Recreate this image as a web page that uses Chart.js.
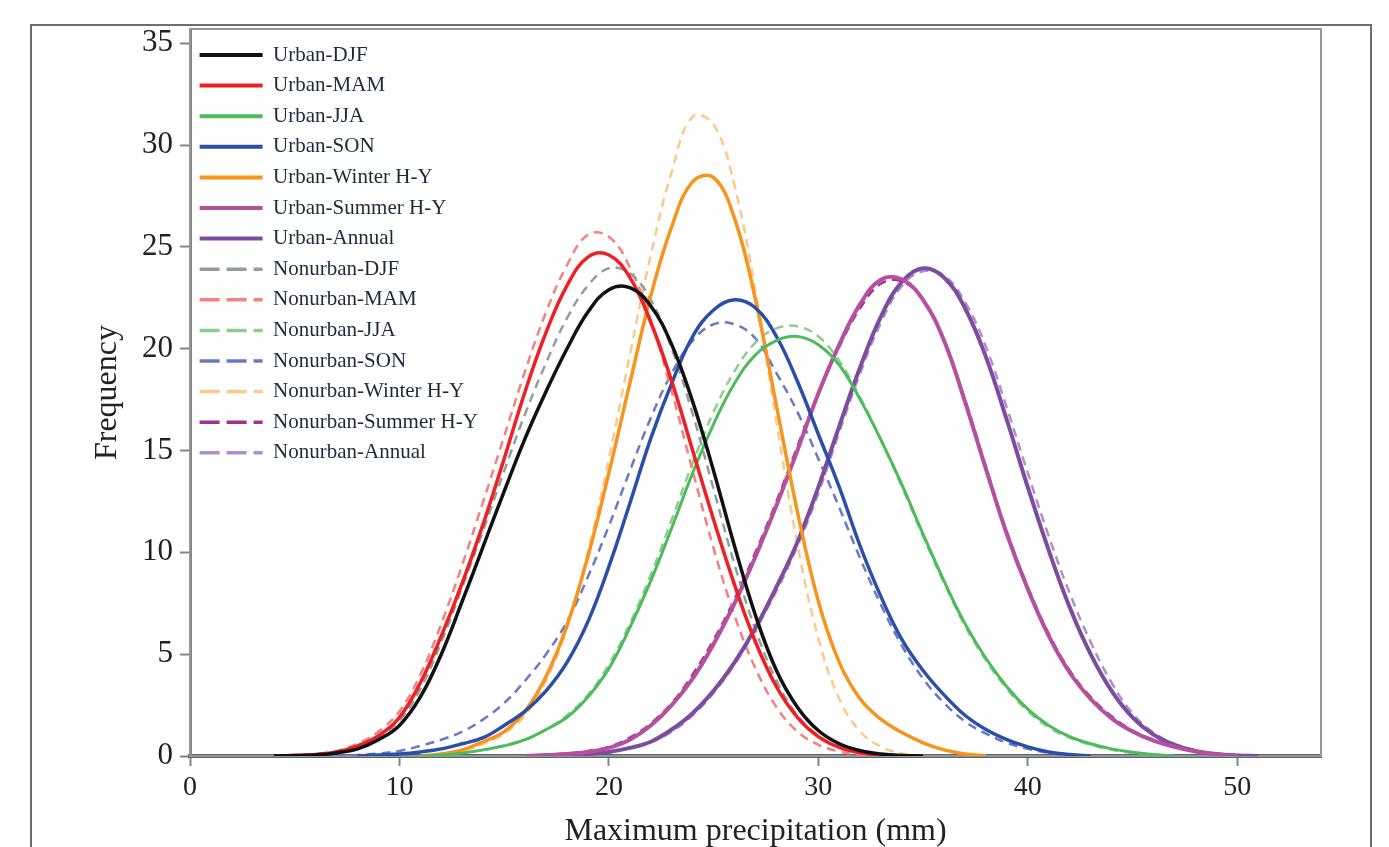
<!DOCTYPE html>
<html>
<head>
<meta charset="utf-8">
<script src="https://cdn.jsdelivr.net/npm/chart.js@4.4.1/dist/chart.umd.min.js"></script>
<style>
  html, body { margin: 0; padding: 0; background: #fff; overflow: hidden; width: 1389px; height: 847px; }
  #frame { position: absolute; left: 30px; top: 24px; width: 1338px; height: 900px; border: 2px solid #6e6e6e; }
  #wrap { position: absolute; left: 0; top: 0; width: 1389px; height: 880px; }
</style>
</head>
<body>
<div id="frame"></div>
<div id="wrap"><canvas id="chart"></canvas></div>
<script>
// frequency curves, one value per mm starting at the given start (mm)
const urbanDJFStart = 4;
const urbanDJF = [0, 0.02, 0.05, 0.15, 0.35, 0.8, 1.5, 2.9, 5.0, 7.6, 10.3, 13.0, 15.6, 17.9, 20.0, 21.8, 22.9, 23.0, 22.1, 20.2, 17.4, 14.0, 10.3, 6.9, 4.2, 2.4, 1.25, 0.6, 0.26, 0.1, 0.03, 0];
const urbanMAMStart = 4;
const urbanMAM = [0, 0.03, 0.08, 0.2, 0.5, 1.0, 1.9, 3.6, 5.9, 8.5, 11.4, 14.6, 17.9, 20.8, 23.1, 24.5, 24.6, 23.5, 21.3, 18.4, 15.0, 11.6, 8.4, 5.6, 3.4, 1.9, 0.95, 0.42, 0.16, 0.05, 0];
const urbanJJAStart = 11;
const urbanJJA = [0, 0.05, 0.15, 0.3, 0.5, 0.8, 1.3, 1.9, 2.9, 4.3, 6.3, 8.6, 11.2, 13.9, 16.3, 18.3, 19.7, 20.4, 20.6, 20.2, 19.2, 17.5, 15.5, 13.3, 10.9, 8.6, 6.5, 4.8, 3.4, 2.3, 1.5, 0.95, 0.6, 0.35, 0.18, 0.08, 0];
const urbanSONStart = 8;
const urbanSON = [0, 0.05, 0.1, 0.2, 0.35, 0.6, 0.9, 1.5, 2.2, 3.2, 4.6, 6.6, 9.3, 12.4, 15.6, 18.3, 20.6, 21.9, 22.4, 22.0, 20.6, 18.4, 15.8, 13.2, 10.3, 7.8, 5.7, 4.2, 3.0, 2.0, 1.3, 0.8, 0.45, 0.2, 0.07, 0];
const urbanWinterStart = 11;
const urbanWinter = [0, 0.1, 0.3, 0.7, 1.2, 2.2, 3.9, 6.4, 9.8, 13.9, 18.3, 22.6, 26.0, 28.2, 28.4, 26.4, 22.4, 17.2, 12.0, 7.6, 4.6, 2.8, 1.8, 1.15, 0.65, 0.3, 0.1, 0];
const urbanSummerStart = 16;
const urbanSummer = [0, 0.05, 0.1, 0.2, 0.4, 0.8, 1.5, 2.5, 3.8, 5.5, 7.5, 9.8, 12.3, 15.0, 17.8, 20.2, 22.2, 23.4, 23.4, 22.4, 20.4, 17.4, 14.1, 10.9, 8.2, 5.9, 4.1, 2.8, 1.85, 1.2, 0.75, 0.45, 0.22, 0.08, 0];
const urbanAnnualStart = 17;
const urbanAnnual = [0, 0.05, 0.1, 0.2, 0.4, 0.7, 1.3, 2.1, 3.2, 4.6, 6.3, 8.3, 10.5, 13.2, 16.2, 19.1, 21.6, 23.3, 23.95, 23.5, 22.0, 19.6, 16.5, 13.2, 10.1, 7.3, 5.0, 3.2, 1.9, 1.05, 0.55, 0.25, 0.1, 0.03, 0];

const nonurbanDJFStart = 4;
const nonurbanDJF = [0, 0.02, 0.06, 0.17, 0.42, 0.95, 1.75, 3.3, 5.6, 8.3, 11.1, 14.0, 16.8, 19.3, 21.5, 23.1, 23.95, 23.7, 22.4, 20.0, 16.8, 13.1, 9.4, 6.2, 3.7, 2.0, 1.0, 0.45, 0.18, 0.06, 0];
const nonurbanMAMStart = 4;
const nonurbanMAM = [0, 0.04, 0.1, 0.25, 0.6, 1.2, 2.2, 4.0, 6.5, 9.4, 12.5, 15.7, 18.9, 21.8, 24.1, 25.6, 25.5, 24.0, 21.4, 17.9, 14.0, 10.2, 6.9, 4.3, 2.4, 1.2, 0.55, 0.22, 0.07, 0];
const nonurbanJJAStart = 11;
const nonurbanJJA = [0, 0.05, 0.15, 0.3, 0.5, 0.8, 1.3, 2.0, 3.0, 4.5, 6.5, 8.9, 11.6, 14.4, 16.9, 18.9, 20.3, 21.0, 21.1, 20.6, 19.4, 17.6, 15.5, 13.2, 10.8, 8.5, 6.4, 4.7, 3.3, 2.2, 1.4, 0.9, 0.55, 0.3, 0.15, 0.06, 0];
const nonurbanSONStart = 7;
const nonurbanSON = [0, 0.05, 0.12, 0.25, 0.5, 0.8, 1.2, 1.8, 2.6, 3.7, 5.0, 6.6, 8.8, 11.3, 14.0, 16.6, 18.8, 20.4, 21.2, 21.2, 20.5, 18.8, 16.9, 14.6, 12.2, 9.7, 7.4, 5.4, 3.8, 2.6, 1.7, 1.1, 0.65, 0.35, 0.15, 0.05, 0];
const nonurbanWinterStart = 11;
const nonurbanWinter = [0, 0.1, 0.25, 0.6, 1.1, 2.0, 3.7, 6.3, 10.0, 14.6, 19.7, 24.6, 28.7, 31.4, 31.0, 28.0, 22.8, 16.4, 10.4, 5.8, 2.8, 1.2, 0.45, 0.12, 0];
const nonurbanSummerStart = 16;
const nonurbanSummer = [0, 0.05, 0.12, 0.25, 0.45, 0.9, 1.6, 2.6, 4.0, 5.7, 7.7, 10.0, 12.5, 15.2, 17.8, 20.1, 22.0, 23.2, 23.3, 22.4, 20.4, 17.5, 14.2, 11.0, 8.3, 6.0, 4.2, 2.9, 1.95, 1.25, 0.8, 0.45, 0.22, 0.08, 0];
const nonurbanAnnualStart = 17;
const nonurbanAnnual = [0, 0.05, 0.1, 0.2, 0.4, 0.7, 1.2, 2.0, 3.1, 4.5, 6.2, 8.1, 10.3, 12.9, 15.9, 18.8, 21.3, 23.1, 23.8, 23.6, 22.3, 20.1, 17.1, 13.9, 10.8, 8.0, 5.6, 3.6, 2.1, 1.15, 0.6, 0.28, 0.12, 0.04, 0];

const xTicks = [0, 10, 20, 30, 40, 50];
const yTicks = [0, 5, 10, 15, 20, 25, 30, 35];

function points(start, values) {
    return values.map((v, i) => ({ x: start + i, y: v }));
}

function solid(label, start, values, color, width) {
    return { label, data: points(start, values), borderColor: color, backgroundColor: color, borderWidth: width, pointRadius: 0, pointStyle: 'line', tension: 0.4, fill: false };
}

function dashed(label, start, values, color) {
    return { label, data: points(start, values), borderColor: color, backgroundColor: color, borderWidth: 2.5, borderDash: [9, 6], pointRadius: 0, pointStyle: 'line', tension: 0.4, fill: false };
}

const datasets = [
    solid('Urban-DJF', urbanDJFStart, urbanDJF, '#111111', 3.5),
    solid('Urban-MAM', urbanMAMStart, urbanMAM, '#ee2024', 3.5),
    solid('Urban-JJA', urbanJJAStart, urbanJJA, '#4dbb5a', 3),
    solid('Urban-SON', urbanSONStart, urbanSON, '#2a4fa8', 3.5),
    solid('Urban-Winter H-Y', urbanWinterStart, urbanWinter, '#f7941e', 3.5),
    solid('Urban-Summer H-Y', urbanSummerStart, urbanSummer, '#b4509f', 4),
    solid('Urban-Annual', urbanAnnualStart, urbanAnnual, '#7c4c9e', 4),
    dashed('Nonurban-DJF', nonurbanDJFStart, nonurbanDJF, '#959c9c'),
    dashed('Nonurban-MAM', nonurbanMAMStart, nonurbanMAM, '#f58080'),
    dashed('Nonurban-JJA', nonurbanJJAStart, nonurbanJJA, '#8ccf8c'),
    dashed('Nonurban-SON', nonurbanSONStart, nonurbanSON, '#6a78c6'),
    dashed('Nonurban-Winter H-Y', nonurbanWinterStart, nonurbanWinter, '#fcc98c'),
    dashed('Nonurban-Summer H-Y', nonurbanSummerStart, nonurbanSummer, '#a1318f'),
    dashed('Nonurban-Annual', nonurbanAnnualStart, nonurbanAnnual, '#ae8fcf')
];

const serif = 'Liberation Serif';
const axisGray = '#7d8789';

// box around the plot area
const plotFrame = {
    id: 'plotFrame',
    beforeDatasetsDraw(chart) {
        const { ctx, chartArea: a } = chart;
        ctx.save();
        ctx.strokeStyle = '#8f9799';
        ctx.lineWidth = 2;
        ctx.strokeRect(a.left, a.top, a.right - a.left, a.bottom - a.top);
        ctx.restore();
    }
};

new Chart(document.getElementById('chart'), {
    type: 'line',
    data: { datasets },
    plugins: [plotFrame],
    options: {
        responsive: true,
        maintainAspectRatio: false,
        animation: false,
        layout: { padding: { left: 0, top: 29, right: 68, bottom: 0 } },
        plugins: {
            tooltip: { enabled: false },
            legend: {
                position: 'chartArea',
                align: 'start',
                title: { display: true, text: '', padding: { top: 31.3, bottom: 0 }, font: { size: 3 } },
                labels: {
                    usePointStyle: true,
                    pointStyleWidth: 63,
                    padding: 9.6,
                    color: '#1c2b3a',
                    font: { family: serif, size: 21 },
                    generateLabels(chart) {
                        const items = Chart.defaults.plugins.legend.labels.generateLabels(chart);
                        items.forEach(item => {
                            const ds = chart.data.datasets[item.datasetIndex];
                            item.strokeStyle = ds.borderColor;
                            item.lineDash = ds.borderDash ? [20, 7] : [];
                            item.lineWidth = ds.borderDash ? 3.5 : 4;
                        });
                        return items;
                    }
                }
            }
        },
        scales: {
            x: {
                type: 'linear',
                min: 0,
                max: 54,
                afterBuildTicks: scale => { scale.ticks = xTicks.map(v => ({ value: v })); },
                afterFit: scale => { scale.height = 124; },
                ticks: { color: '#222', padding: 5, font: { family: serif, size: 28 } },
                grid: { drawOnChartArea: false, drawTicks: true, tickLength: 10, tickWidth: 2, tickColor: axisGray },
                border: { display: true, color: '#5d6568', width: 4 },
                title: { display: true, text: 'Maximum precipitation (mm)', color: '#222', font: { family: serif, size: 32 }, padding: { top: 0, bottom: 28.8 } }
            },
            y: {
                min: 0,
                max: 35.7,
                afterBuildTicks: scale => { scale.ticks = yTicks.map(v => ({ value: v })); },
                afterFit: scale => { scale.width = 190; },
                ticks: { color: '#222', padding: 7, font: { family: serif, size: 31 } },
                grid: { drawOnChartArea: false, drawTicks: true, tickLength: 10, tickWidth: 2, tickColor: axisGray },
                border: { display: true, color: axisGray, width: 3 },
                title: { display: true, text: 'Frequency', color: '#222', font: { family: serif, size: 32 }, padding: { top: 88.8, bottom: 0 } }
            }
        }
    }
});
</script>
</body>
</html>
